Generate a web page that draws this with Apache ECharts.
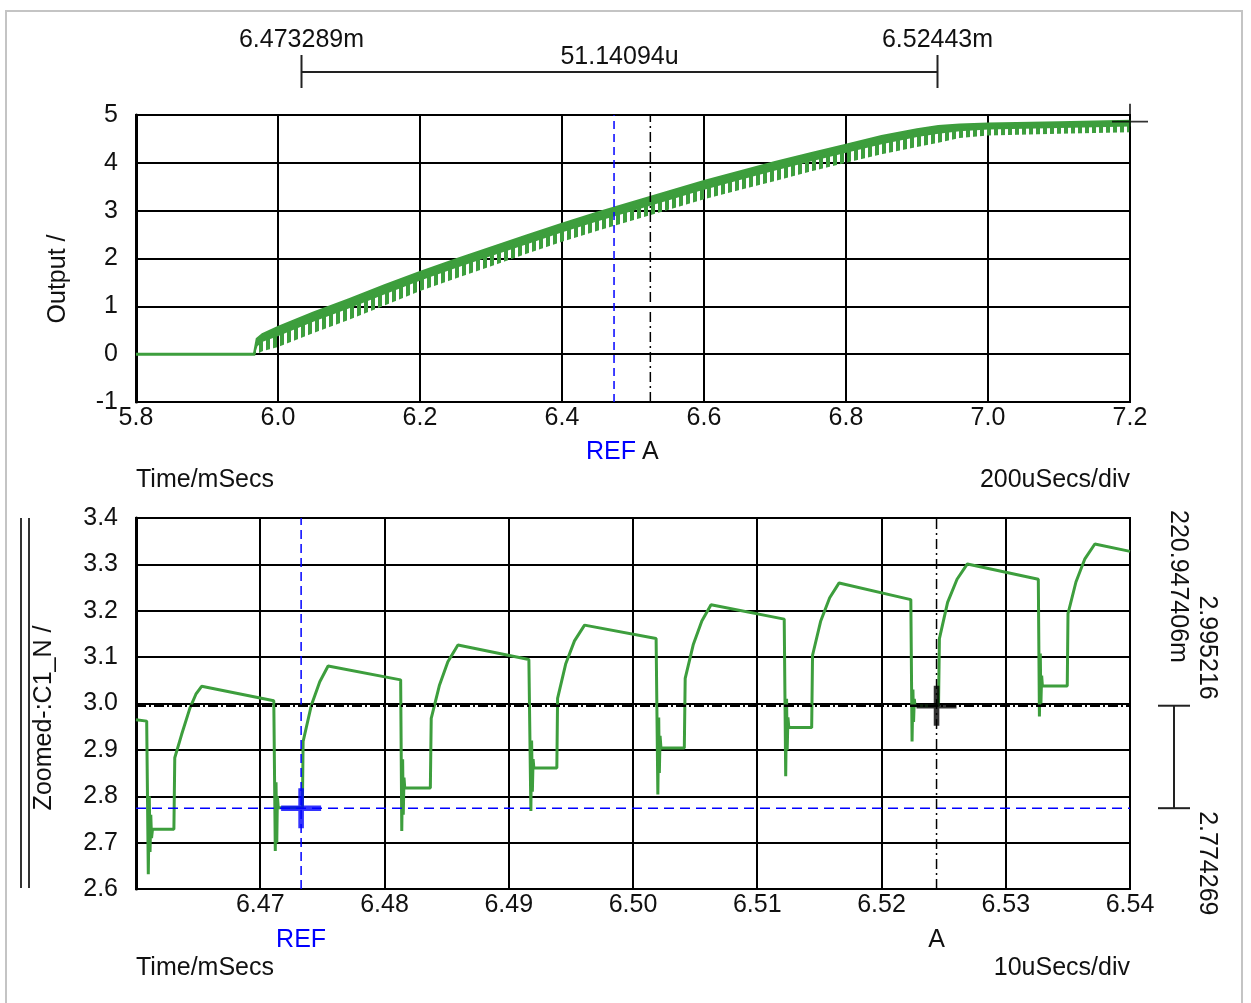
<!DOCTYPE html>
<html><head><meta charset="utf-8">
<script src="https://cdn.jsdelivr.net/npm/echarts@6/dist/echarts.min.js"></script>
<style>html,body{margin:0;padding:0;background:#fff}#c{width:1251px;height:1003px}</style>
</head><body><div id="c"></div>
<script>
// ---------- data ----------
const topXLabels = ['5.8','6.0','6.2','6.4','6.6','6.8','7.0','7.2'];
const topYLabels = ['-1','0','1','2','3','4','5'];
const botXLabels = ['6.46','6.47','6.48','6.49','6.50','6.51','6.52','6.53','6.54'];
const botYLabels = ['2.6','2.7','2.8','2.9','3.0','3.1','3.2','3.3','3.4'];

// top trace: flat part before start-up
const topFlatT = [5.8, 5.968];
const topFlatV = [0, 0];
// top trace: ripple band (upper envelope, teeth roots, lower envelope)
const bandT   = [5.966,5.970,5.978,6.00,6.05,6.10,6.15,6.20,6.25,6.30,6.35,6.40,6.45,6.50,6.55,6.60,6.65,6.70,6.75,6.80,6.85,6.90,6.93,6.96,7.00,7.10,7.20];
const bandHi  = [0.00,0.32,0.42,0.57,0.87,1.15,1.44,1.72,1.98,2.23,2.48,2.73,2.96,3.18,3.40,3.62,3.82,4.02,4.20,4.38,4.56,4.70,4.77,4.80,4.82,4.85,4.88];
const bandMid = [0.00,0.18,0.28,0.40,0.70,0.98,1.27,1.56,1.82,2.07,2.32,2.57,2.80,3.02,3.24,3.46,3.66,3.86,4.05,4.23,4.41,4.56,4.63,4.68,4.72,4.75,4.78];
const bandLo  = [0.00,0.00,0.06,0.15,0.44,0.72,1.02,1.32,1.58,1.84,2.10,2.35,2.58,2.80,3.02,3.24,3.43,3.62,3.82,4.00,4.18,4.33,4.42,4.52,4.57,4.61,4.64];
const topMarker = [7.2, 4.86];

// zoomed trace
const bT = [
 6.46000,6.46086,6.46093,6.46099,6.46107,6.46113,6.46119,6.46125,6.46133,6.46305,6.46312,6.46367,6.46434,6.46482,6.46528,6.47109,
 6.47114,6.47121,6.47127,6.47133,6.47138,6.47145,6.47339,6.47345,6.47412,6.47479,6.47546,6.48130,
 6.48133,6.48139,6.48146,6.48151,6.48157,6.48163,6.48369,6.48376,6.48443,6.48510,6.48591,6.49162,
 6.49171,6.49178,6.49184,6.49190,6.49196,6.49202,6.49387,6.49393,6.49458,6.49529,6.49610,6.50186,
 6.50194,6.50200,6.50207,6.50212,6.50218,6.50225,6.50413,6.50420,6.50486,6.50554,6.50628,6.51217,
 6.51223,6.51229,6.51236,6.51241,6.51247,6.51254,6.51438,6.51445,6.51511,6.51583,6.51659,6.52236,
 6.52240,6.52246,6.52253,6.52258,6.52264,6.52270,6.52459,6.52466,6.52532,6.52608,6.52691,6.53262,
 6.53265,6.53271,6.53278,6.53283,6.53289,6.53295,6.53495,6.53501,6.53565,6.53637,6.53717,6.54000];
const bV = [
 2.965,2.962,2.962,2.632,2.800,2.680,2.760,2.710,2.729,2.729,2.883,2.933,2.990,3.020,3.037,3.006,
 3.005,2.682,2.830,2.700,2.800,2.775,2.775,2.918,2.997,3.047,3.081,3.051,
 3.051,2.725,2.880,2.760,2.840,2.818,2.818,2.968,3.040,3.090,3.126,3.095,
 3.094,2.768,2.920,2.810,2.880,2.861,2.861,3.011,3.085,3.135,3.169,3.140,
 3.140,2.804,2.970,2.850,2.930,2.904,2.904,3.054,3.128,3.178,3.213,3.182,
 3.182,2.843,3.010,2.900,2.970,2.948,2.948,3.104,3.178,3.228,3.260,3.224,
 3.224,2.918,3.030,2.960,3.010,2.995,2.995,3.140,3.218,3.268,3.301,3.268,
 3.268,2.972,3.108,3.000,3.060,3.038,3.038,3.194,3.262,3.312,3.344,3.328];

// cursors
const refT = 6.473289, refV = 2.774269;
const aT = 6.52443, aV = 2.995216;
const cursorTexts = ['6.473289m', '6.52443m', '51.14094u', '220.947406m', '2.995216', '2.774269'];

// ---------- style ----------
const GREEN = '#3d9e3d';
const BLUE = '#0000ff';
const FONT = '"Liberation Sans", Arial, sans-serif';
const FS = 25;
const TXT = '#111';

const chart = echarts.init(document.getElementById('c'), null, {renderer: 'canvas', width: 1251, height: 1003});

function stripes(on, period) {
  const c = document.createElement('canvas');
  c.width = period; c.height = 8;
  const g = c.getContext('2d'); g.fillStyle = GREEN; g.fillRect(0, 0, on, 8);
  return c;
}
const stripeLow = stripes(4, 7);

function lab(arr, min, step) {
  return function (v) { const i = Math.round((v - min) / step); return arr[i] !== undefined ? arr[i] : ''; };
}
const crossThick = 'path://M-1.4,-10L1.4,-10L1.4,-1.4L10,-1.4L10,1.4L1.4,1.4L1.4,10L-1.4,10L-1.4,1.4L-10,1.4L-10,-1.4L-1.4,-1.4Z';
const crossThin = 'path://M-0.5,-10L0.5,-10L0.5,-0.5L10,-0.5L10,0.5L0.5,0.5L0.5,10L-0.5,10L-0.5,0.5L-10,0.5L-10,-0.5L-0.5,-0.5Z';

const axisCommon = {
  type: 'value',
  axisTick: {show: false},
  splitLine: {show: true, lineStyle: {color: '#000', width: 2}},
  axisLabel: {color: TXT, fontSize: FS, fontFamily: FONT}
};

function vline(t, y0, y1, xi, color, type, w) {
  return {type: 'line', xAxisIndex: xi, yAxisIndex: xi, data: [[t, y0], [t, y1]], symbol: 'none', silent: true,
    lineStyle: {color: color, width: w, type: type}, z: 5};
}
function hline(v, x0, x1, xi, color, type, w) {
  return {type: 'line', xAxisIndex: xi, yAxisIndex: xi, data: [[x0, v], [x1, v]], symbol: 'none', silent: true,
    lineStyle: {color: color, width: w, type: type}, z: 5};
}

const option = {
  animation: false,
  backgroundColor: '#fff',
  grid: [
    {left: 136, top: 115, width: 994, height: 287, show: true, borderColor: '#000', borderWidth: 2, backgroundColor: '#fff'},
    {left: 136, top: 518, width: 994, height: 371, show: true, borderColor: '#000', borderWidth: 2, backgroundColor: '#fff'}
  ],
  xAxis: [
    Object.assign({}, axisCommon, {gridIndex: 0, min: 5.8, max: 7.2, interval: 0.2,
      axisLine: {show: true, onZero: false, lineStyle: {color: '#000', width: 2}},
      axisLabel: Object.assign({}, axisCommon.axisLabel, {margin: 4, formatter: lab(topXLabels, 5.8, 0.2)})}),
    Object.assign({}, axisCommon, {gridIndex: 1, min: 6.46, max: 6.54, interval: 0.01,
      axisLine: {show: true, onZero: false, lineStyle: {color: '#000', width: 2}},
      axisLabel: Object.assign({}, axisCommon.axisLabel, {margin: 4, showMinLabel: false, formatter: lab(botXLabels, 6.46, 0.01)})})
  ],
  yAxis: [
    Object.assign({}, axisCommon, {gridIndex: 0, min: -1, max: 5, interval: 1,
      axisLine: {show: true, onZero: false, lineStyle: {color: '#000', width: 3}},
      axisLabel: Object.assign({}, axisCommon.axisLabel, {margin: 18, formatter: lab(topYLabels, -1, 1)})}),
    Object.assign({}, axisCommon, {gridIndex: 1, min: 2.6, max: 3.4, interval: 0.1,
      axisLine: {show: true, onZero: false, lineStyle: {color: '#000', width: 3}},
      axisLabel: Object.assign({}, axisCommon.axisLabel, {margin: 18, formatter: lab(botYLabels, 2.6, 0.1)})})
  ],
  series: [
    {
      type: 'custom', xAxisIndex: 0, yAxisIndex: 0, silent: true, z: 3,
      data: [[bandT[0], bandHi[0]]],
      renderItem: function (params, api) {
        if (params.dataIndex !== 0) return null;
        const up = bandT.map((t, i) => api.coord([t, bandHi[i]]));
        const md = bandT.map((t, i) => api.coord([t, bandMid[i]]));
        const lo = bandT.map((t, i) => api.coord([t, bandLo[i]]));
        return {type: 'group', children: [
          {type: 'polygon', shape: {points: md.concat(lo.slice().reverse())}, style: {fill: {image: stripeLow, repeat: 'repeat'}}},
          {type: 'polygon', shape: {points: up.concat(md.slice().reverse())}, style: {fill: GREEN, stroke: GREEN, lineWidth: 2}}
        ]};
      }
    },
    {type: 'line', xAxisIndex: 0, yAxisIndex: 0, data: topFlatT.map((t, i) => [t, topFlatV[i]]), symbol: 'none',
      lineStyle: {color: GREEN, width: 3}, z: 3},
    vline(refT, -1, 5, 0, BLUE, [8, 5], 1.5),
    vline(aT, -1, 5, 0, '#000', [10, 4, 2, 4], 1.5),
    {type: 'scatter', xAxisIndex: 0, yAxisIndex: 0, data: [topMarker], symbol: crossThin, symbolSize: 36,
      itemStyle: {color: '#000'}, clip: false, silent: true, z: 6},

    {type: 'line', xAxisIndex: 1, yAxisIndex: 1, data: bT.map((t, i) => [t, bV[i]]), symbol: 'none',
      lineStyle: {color: GREEN, width: 3}, z: 3},
    vline(refT, 2.6, 3.4, 1, BLUE, [9, 5], 1.5),
    hline(refV, 6.46, 6.54, 1, BLUE, [10, 6], 1.5),
    vline(aT, 2.6, 3.4, 1, '#000', [10, 4, 2, 4], 1.5),
    hline(aV, 6.46, 6.54, 1, '#000', [10, 3, 2, 3], 2.5),
    {type: 'scatter', xAxisIndex: 1, yAxisIndex: 1, data: [[refT, refV]], symbol: crossThick, symbolSize: 40,
      itemStyle: {color: BLUE}, clip: false, silent: true, z: 6},
    {type: 'scatter', xAxisIndex: 1, yAxisIndex: 1, data: [[aT, aV]], symbol: crossThick, symbolSize: 40,
      itemStyle: {color: '#000'}, clip: false, silent: true, z: 6}
  ]
};
chart.setOption(option);

// ---------- annotations ----------
const pRefB = chart.convertToPixel({gridIndex: 1}, [refT, refV]);
const pAB = chart.convertToPixel({gridIndex: 1}, [aT, aV]);
const pRefT = chart.convertToPixel({gridIndex: 0}, [refT, 0]);
const pAT = chart.convertToPixel({gridIndex: 0}, [aT, 0]);

function txt(s, x, y, align, va, color, rot) {
  return {type: 'text', x: x, y: y, rotation: rot || 0, z: 10, silent: true,
    style: {text: s, fill: color || TXT, fontSize: FS, fontFamily: FONT,
      align: align, textAlign: align, verticalAlign: va, textVerticalAlign: va}};
}
function seg(x1, y1, x2, y2, w, color) {
  return {type: 'line', z: 10, silent: true, shape: {x1: x1, y1: y1, x2: x2, y2: y2},
    style: {stroke: color || '#222', lineWidth: w || 2}};
}
const R = Math.PI / 2;
const xr = Math.round(pRefB[0]) + 0.5, xa = Math.round(pAB[0]) + 0.5;
const yA = pAB[1], yR = pRefB[1];
chart.setOption({graphic: [
  {type: 'rect', z: 0, silent: true, shape: {x: 6, y: 11, width: 1236, height: 1020}, style: {fill: 'none', stroke: '#c4c4c4', lineWidth: 2}},
  txt(cursorTexts[0], xr, 40, 'center', 'middle'),
  txt(cursorTexts[1], xa, 40, 'center', 'middle'),
  txt(cursorTexts[2], (xr + xa) / 2, 57, 'center', 'middle'),
  seg(xr, 72, xa, 72, 2),
  seg(xr, 55, xr, 88, 2),
  seg(xa, 55, xa, 88, 2),
  txt('REF', pRefT[0] - 3, 452, 'center', 'middle', BLUE),
  txt('A', pAT[0], 452, 'center', 'middle'),
  txt('Time/mSecs', 136, 480, 'left', 'middle'),
  txt('200uSecs/div', 1130, 480, 'right', 'middle'),
  txt('Output /', 58, 279, 'center', 'middle', TXT, R),
  txt('Zoomed-:C1_N /', 44, 718, 'center', 'middle', TXT, R),
  seg(21, 518, 21, 888, 2, '#333'),
  seg(29, 518, 29, 888, 2, '#333'),
  txt('REF', pRefB[0], 940, 'center', 'middle', BLUE),
  txt('A', pAB[0], 940, 'center', 'middle'),
  txt('Time/mSecs', 136, 968, 'left', 'middle'),
  txt('10uSecs/div', 1130, 968, 'right', 'middle'),
  seg(1174, yA, 1174, yR, 2),
  seg(1158, yA, 1190, yA, 2),
  seg(1158, yR, 1190, yR, 2),
  txt(cursorTexts[3], 1178, 510, 'left', 'middle', TXT, -R),
  txt(cursorTexts[4], 1207, yA - 6, 'right', 'middle', TXT, -R),
  txt(cursorTexts[5], 1207, yR + 3, 'left', 'middle', TXT, -R)
]});
</script></body></html>
